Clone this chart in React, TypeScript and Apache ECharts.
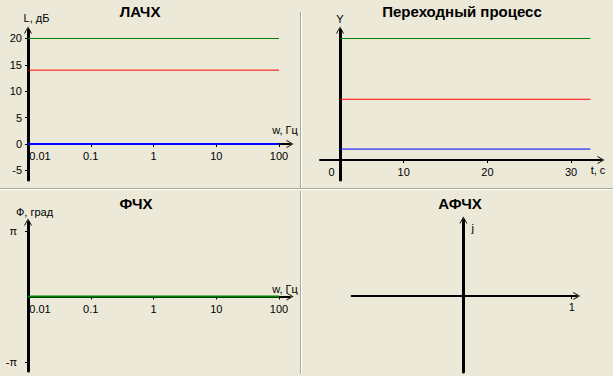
import React, { useEffect, useRef } from 'react';
import * as echarts from 'echarts';

// ---- data ----
const titles = ['ЛАЧХ', 'Переходный процесс', 'ФЧХ', 'АФЧХ'];
const freqRange = [0.01, 100];
const lachGreen = [20, 20];
const lachRed = [14, 14];
const lachBlue = [0, 0];
const freqTicks = [0.01, 0.1, 1, 10, 100];
const freqTickLabels = ['0.01', '0.1', '1', '10', '100'];
const lachYTicks = [-5, 0, 5, 10, 15, 20];
const phaseGreen = [0, 0];
const phaseTicks = [Math.PI, -Math.PI];
const phaseTickLabels = ['π', '-π'];
const stepTime = [2.4, 32.3];
const stepGreen = [1, 1];
const stepRed = [0.5, 0.5];
const stepBlue = [0.09, 0.09];
const stepTicks = [10, 20, 30];
const stepLabelTicks = [0, 10, 20, 30];
const afchTicks = [1];

const FONT = '"Liberation Sans", Arial, sans-serif';
const ARROW = 'path://M0,7 L4,0 L8,7 L7,7 L4,1.6 L1,7 Z';

// layout (axis ranges / grid boxes)
const G = [
  { left: 28, top: 30, width: 262, height: 150, ymin: -6.825, ymax: 21.61 },
  { left: 320, top: 30, width: 281, height: 150, ymin: -0.1646, ymax: 1.07 },
  { left: 28, top: 222, width: 262, height: 149, ymin: -1.134 * Math.PI, ymax: 1.134 * Math.PI },
  { left: 351.7, top: 220, width: 225, height: 152, ymin: -1, ymax: 1 },
];
const zeroOffset = (g: (typeof G)[number]) => -((0 - g.ymin) / (g.ymax - g.ymin)) * g.height;

const lg = (v: number) => Math.log10(v);

function freqLabel(v: number) {
  const i = freqTicks.findIndex((f) => Math.abs(lg(f) - v) < 1e-6);
  if (i < 0) return '';
  return i === 0 ? '{s|' + freqTickLabels[i] + '}' : freqTickLabels[i];
}

const labelStyle = { color: '#000', fontFamily: FONT, fontSize: 11 };
const axisLineOf = (width: number) => ({
  onZero: false,
  symbol: ['none', ARROW],
  symbolSize: [8, 7],
  lineStyle: { color: '#000', width },
});

function freqXAxis(gridIndex: number, name: string, namePad: number[]) {
  return {
    type: 'value',
    gridIndex,
    position: 'bottom',
    offset: zeroOffset(G[gridIndex]),
    min: -2,
    max: 2.175,
    name,
    nameLocation: 'end',
    nameGap: -5,
    nameMoveOverlap: false,
    nameTextStyle: { ...labelStyle, align: 'center', verticalAlign: 'bottom', padding: namePad },
    axisLine: axisLineOf(2),
    axisTick: { show: true, customValues: freqTicks.map(lg), length: 3, lineStyle: { color: '#000', width: 1 } },
    axisLabel: {
      ...labelStyle,
      margin: 7,
      customValues: freqTicks.map(lg),
      formatter: freqLabel,
      rich: { s: { ...labelStyle, padding: [0, 0, 0, 24] } },
    },
    splitLine: { show: false },
  };
}

function lineSeries(xIdx: number, xs: number[], ys: number[], color: string, width: number) {
  return {
    type: 'line',
    xAxisIndex: xIdx,
    yAxisIndex: xIdx,
    data: xs.map((x, i) => [x, ys[i]]),
    symbol: 'none',
    silent: true,
    lineStyle: { color, width },
  };
}

export default function App() {
  const ref = useRef<HTMLDivElement>(null);
  useEffect(() => {
    document.body.style.margin = '0';
    const chart = echarts.init(ref.current!, null, { renderer: 'svg' });
    const titleStyle = { color: '#000', fontFamily: FONT, fontSize: 15, fontWeight: 'bold', lineHeight: 15 };
    chart.setOption({
      animation: false,
      backgroundColor: '#ECE9D8',
      title: [
        { text: titles[0], left: 140, top: 4, padding: 0, textAlign: 'center', textStyle: titleStyle },
        { text: titles[1], left: 462, top: 4, padding: 0, textAlign: 'center', textStyle: titleStyle },
        { text: titles[2], left: 136, top: 196, padding: 0, textAlign: 'center', textStyle: titleStyle },
        { text: titles[3], left: 460, top: 196, padding: 0, textAlign: 'center', textStyle: titleStyle },
      ],
      grid: G.map((g) => ({ left: g.left, top: g.top, width: g.width, height: g.height })),
      xAxis: [
        freqXAxis(0, 'w, Гц', [0, 0, 8, 0]),
        {
          type: 'value',
          gridIndex: 1,
          position: 'bottom',
          offset: zeroOffset(G[1]),
          min: 0,
          max: 33.57,
          name: 't, c',
          nameLocation: 'end',
          nameGap: -3,
          nameMoveOverlap: false,
          nameTextStyle: { ...labelStyle, align: 'center', verticalAlign: 'top', padding: [4, 0, 0, 0] },
          axisLine: axisLineOf(2),
          axisTick: { show: true, customValues: stepTicks, length: 3, lineStyle: { color: '#000' } },
          axisLabel: {
            ...labelStyle,
            margin: 6,
            customValues: stepLabelTicks,
            formatter: (v: number) => (v === 0 ? '{z|0}' : String(v)),
            rich: { z: { ...labelStyle, padding: [0, 0, 0, 23] } },
          },
          splitLine: { show: false },
        },
        freqXAxis(2, 'w, Гц', [0, 0, 2, 0]),
        {
          type: 'value',
          gridIndex: 3,
          position: 'bottom',
          offset: zeroOffset(G[3]),
          min: -1.031,
          max: 1.046,
          axisLine: axisLineOf(2),
          axisTick: { show: true, customValues: afchTicks, length: 3, lineStyle: { color: '#000' } },
          axisLabel: { ...labelStyle, margin: 5, customValues: afchTicks },
          splitLine: { show: false },
        },
      ],
      yAxis: [
        {
          type: 'value',
          gridIndex: 0,
          min: G[0].ymin,
          max: G[0].ymax,
          name: 'L, дБ',
          nameLocation: 'end',
          nameGap: 12,
          nameTextStyle: { ...labelStyle, align: 'center', verticalAlign: 'middle', padding: [0, 0, 0, 17] },
          axisLine: axisLineOf(3),
          axisTick: { show: true, customValues: lachYTicks, length: 3, lineStyle: { color: '#000' } },
          axisLabel: { ...labelStyle, margin: 6, customValues: lachYTicks },
          splitLine: { show: false },
        },
        {
          type: 'value',
          gridIndex: 1,
          min: G[1].ymin,
          max: G[1].ymax,
          offset: -20,
          name: 'Y',
          nameLocation: 'end',
          nameGap: 11,
          nameTextStyle: { ...labelStyle, align: 'center', verticalAlign: 'middle' },
          axisLine: axisLineOf(3),
          axisTick: { show: false },
          axisLabel: { show: false },
          splitLine: { show: false },
        },
        {
          type: 'value',
          gridIndex: 2,
          min: G[2].ymin,
          max: G[2].ymax,
          name: 'Ф, град',
          nameLocation: 'end',
          nameGap: 10,
          nameTextStyle: { ...labelStyle, align: 'center', verticalAlign: 'middle', padding: [0, 0, 0, 13] },
          axisLine: axisLineOf(3),
          axisTick: { show: true, customValues: phaseTicks, length: 3, lineStyle: { color: '#000' } },
          axisLabel: {
            ...labelStyle,
            margin: 11,
            customValues: phaseTicks,
            formatter: (v: number) => {
              const i = phaseTicks.findIndex((p) => Math.abs(p - v) < 1e-6);
              return i < 0 ? '' : phaseTickLabels[i];
            },
          },
          splitLine: { show: false },
        },
        {
          type: 'value',
          gridIndex: 3,
          min: G[3].ymin,
          max: G[3].ymax,
          name: 'j',
          nameLocation: 'end',
          nameGap: -8,
          nameTextStyle: { ...labelStyle, align: 'left', verticalAlign: 'middle', padding: [0, 0, 0, 8] },
          axisLine: { ...axisLineOf(3), onZero: true },
          axisTick: { show: false },
          axisLabel: { show: false },
          splitLine: { show: false },
        },
      ],
      series: [
        lineSeries(0, freqRange.map(lg), lachGreen, '#008000', 1),
        lineSeries(0, freqRange.map(lg), lachRed, '#FF0000', 1),
        lineSeries(0, freqRange.map(lg), lachBlue, '#0000FF', 2),
        lineSeries(1, stepTime, stepGreen, '#008000', 1),
        lineSeries(1, stepTime, stepRed, '#FF0000', 1),
        lineSeries(1, stepTime, stepBlue, '#0000FF', 1),
        lineSeries(2, freqRange.map(lg), phaseGreen, '#008000', 2),
      ],
      graphic: [
        { type: 'line', silent: true, shape: { x1: 300.5, y1: 12, x2: 300.5, y2: 188 }, style: { stroke: '#ACA899', lineWidth: 1 } },
        { type: 'line', silent: true, shape: { x1: 301.5, y1: 12, x2: 301.5, y2: 188 }, style: { stroke: '#FFFFFF', lineWidth: 1 } },
        { type: 'line', silent: true, shape: { x1: 0, y1: 188.5, x2: 613, y2: 188.5 }, style: { stroke: '#ACA899', lineWidth: 1 } },
        { type: 'line', silent: true, shape: { x1: 0, y1: 189.5, x2: 613, y2: 189.5 }, style: { stroke: '#FFFFFF', lineWidth: 1 } },
        { type: 'line', silent: true, shape: { x1: 300.5, y1: 191, x2: 300.5, y2: 374 }, style: { stroke: '#ACA899', lineWidth: 1 } },
        { type: 'line', silent: true, shape: { x1: 301.5, y1: 191, x2: 301.5, y2: 374 }, style: { stroke: '#FFFFFF', lineWidth: 1 } },
      ],
    });
    return () => chart.dispose();
  }, []);
  return <div ref={ref} style={{ position: 'absolute', left: 0, top: 0, width: 613, height: 376 }} />;
}
